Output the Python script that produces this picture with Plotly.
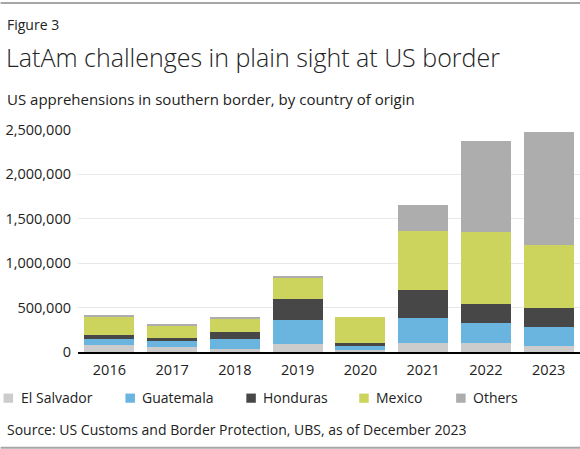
import plotly.graph_objects as go

years = ["2016", "2017", "2018", "2019", "2020", "2021", "2022", "2023"]
el_salvador = [75000, 56000, 30000, 95000, 19000, 101000, 97000, 64000]
guatemala = [71000, 64000, 121000, 262000, 45000, 282000, 232000, 218000]
honduras = [50000, 42000, 71000, 244000, 37000, 312000, 209000, 213000]
mexico = [203000, 139000, 157000, 233000, 293000, 664000, 811000, 714000]
others = [14000, 5000, 15000, 15000, 0, 300000, 1025000, 1265000]

series_names = ["El Salvador", "Guatemala", "Honduras", "Mexico", "Others"]
series_values = [el_salvador, guatemala, honduras, mexico, others]
colors = ["#cccccc", "#6ab5e0", "#474747", "#cdd45e", "#adadad"]

W, H = 580, 449
L, R = 77.5, 0
TOP, BOT = 129.5, 351.7
pw = W - L - R
ph = BOT - TOP

def px(x):
    return (x - L) / pw

def py(y):
    return (BOT - y) / ph

FONT = "Open Sans"
TXT = "#222222"

fig = go.Figure()
for name, vals, col in zip(series_names, series_values, colors):
    fig.add_trace(go.Bar(x=years, y=vals, name=name, marker=dict(color=col, line=dict(width=0)),
                         showlegend=False))

annotations = [
    dict(text="Figure 3", x=px(4), y=py(24), font=dict(size=14, color=TXT, family=FONT)),
    dict(text="LatAm challenges in plain sight at US border", x=px(3), y=py(56),
         font=dict(size=25, color=TXT, family=FONT, weight=300)),
    dict(text="US apprehensions in southern border, by country of origin", x=px(4), y=py(98),
         font=dict(size=15, color=TXT, family=FONT)),
    dict(text="Source: US Customs and Border Protection, UBS, as of December 2023", x=px(4), y=py(429.5),
         font=dict(size=14, color=TXT, family=FONT)),
]
shapes = [
    dict(type="line", xref="paper", yref="paper", x0=px(0), x1=px(W), y0=py(2.5), y1=py(2.5),
         line=dict(color="#a6a6a6", width=2)),
    dict(type="line", xref="paper", yref="paper", x0=px(0), x1=px(W), y0=py(447.5), y1=py(447.5),
         line=dict(color="#a6a6a6", width=2)),
]
sq_x = [3, 125, 246, 359, 456]
for name, col, sx in zip(series_names, colors, sq_x):
    shapes.append(dict(type="rect", xref="paper", yref="paper", x0=px(sx), x1=px(sx + 9.5),
                       y0=py(393.3), y1=py(402.5), fillcolor=col, line=dict(width=0)))
    annotations.append(dict(text=name, x=px(sx + 15), y=py(397.5), font=dict(size=14, color=TXT, family=FONT)))
for a in annotations:
    a.update(xref="paper", yref="paper", xanchor="left", yanchor="middle", showarrow=False)

fig.update_layout(
    width=W, height=H,
    margin=dict(l=L, r=R, t=TOP, b=H - BOT, pad=0),
    barmode="stack", bargap=0.204,
    plot_bgcolor="white", paper_bgcolor="white",
    font=dict(family=FONT, color=TXT),
    annotations=annotations, shapes=shapes,
    xaxis=dict(showgrid=False, showline=True, linecolor="#000000", linewidth=2,
               ticks="", tickfont=dict(size=14.5, color=TXT, family=FONT), ticklabelstandoff=4,
               fixedrange=True),
    yaxis=dict(range=[0, 2500000], tickvals=[0, 500000, 1000000, 1500000, 2000000, 2500000],
               tickformat=",d", showgrid=True, gridcolor="#e8e8e8", gridwidth=1,
               zeroline=False, showline=False, ticks="",
               tickfont=dict(size=14.5, color=TXT, family=FONT), ticklabelstandoff=6,
               fixedrange=True),
)

fig.write_html("out.html", config={"displayModeBar": False},
               post_script="document.body.style.margin='0';document.body.style.overflow='hidden';")
